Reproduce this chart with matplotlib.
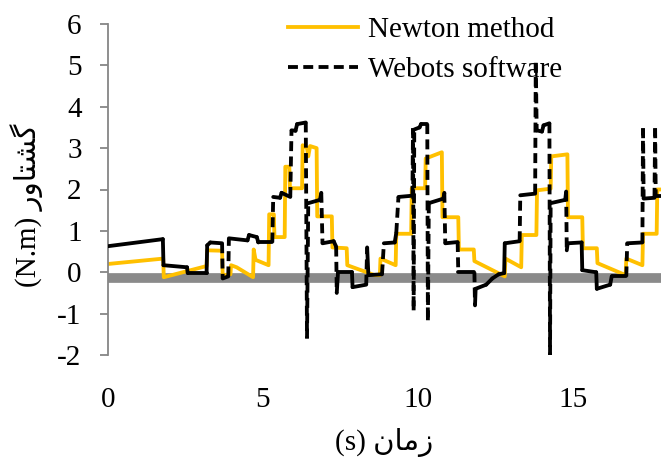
import numpy as np
import matplotlib.pyplot as plt
from matplotlib.collections import LineCollection
from matplotlib.lines import Line2D

# torque vs time, Newton method (step-wise)
newton_t = [0.00, 1.78, 1.80, 3.18, 3.20, 3.68, 3.70, 3.95, 3.97, 4.15, 4.68, 4.70,
            4.76, 5.18, 5.20, 5.35, 5.37, 5.70, 5.72, 5.85, 5.87, 6.26, 6.28, 6.42,
            6.46, 6.52, 6.73, 6.75, 7.22, 7.24, 7.70, 7.72, 8.60, 8.77, 8.79, 9.28,
            9.30, 9.78, 9.80, 10.23, 10.25, 10.77, 10.79, 11.30, 11.32, 11.80, 11.82,
            12.80, 12.82, 13.33, 13.35, 13.82, 13.84, 14.28, 14.30, 14.82, 14.84,
            15.30, 15.32, 15.77, 15.79, 16.70, 16.72, 17.24, 17.26, 17.70, 17.72, 17.84]
newton_v = [0.20, 0.33, -0.12, 0.15, 0.53, 0.52, -0.07, -0.05, 0.17, 0.12, -0.12, 0.55,
            0.30, 0.17, 1.40, 1.40, 0.85, 0.85, 2.55, 2.55, 2.03, 2.03, 3.07, 3.00,
            2.80, 3.05, 3.00, 1.35, 1.35, 0.60, 0.58, 0.17, -0.07, -0.07, 0.33, 0.17,
            0.93, 0.93, 2.03, 2.03, 2.75, 2.90, 1.33, 1.33, 0.55, 0.55, 0.27,
            -0.10, 0.33, 0.12, 0.90, 0.90, 1.98, 2.02, 2.80, 2.85, 1.33,
            1.33, 0.58, 0.58, 0.22, -0.07, 0.33, 0.17, 0.93, 0.93, 2.00, 2.00]

# torque vs time, Webots simulation
webots_t = [0.00, 1.77, 1.79, 2.55, 2.57, 3.18, 3.20, 3.30, 3.68, 3.70, 3.88, 3.90,
            4.50, 4.55, 4.80, 4.85, 5.30, 5.33, 5.55, 5.60, 5.88, 5.92, 6.05, 6.10,
            6.38, 6.42, 6.46, 6.84, 6.88, 6.92, 7.28, 7.36, 7.38, 7.42, 7.87, 7.89,
            8.33, 8.36, 8.40, 8.84, 8.90, 9.25, 9.30, 9.37, 9.82, 9.84, 9.86, 9.88,
            10.05, 10.10, 10.30, 10.32, 10.35, 10.82, 10.85, 10.88, 11.28, 11.30,
            11.82, 11.84, 11.86, 12.20, 12.40, 12.60, 12.78, 12.80, 13.28, 13.30,
            13.78, 13.80, 13.83, 14.00, 14.05, 14.24, 14.26, 14.28, 14.75, 14.78,
            14.80, 14.83, 15.28, 15.30, 15.75, 15.77, 16.20, 16.25, 16.72, 16.75,
            17.24, 17.26, 17.28, 17.63, 17.65, 17.67, 17.84]
webots_v = [0.63, 0.80, 0.17, 0.12, -0.02, -0.02, 0.65, 0.72, 0.70, -0.15, -0.10, 0.82,
            0.77, 0.90, 0.85, 0.72, 0.72, 1.82, 1.80, 1.92, 1.82, 3.43, 3.42, 3.58,
            3.62, -1.60, 1.67, 1.75, 1.92, 0.70, 0.75, 0.62, -0.50, 0.00, 0.00, -0.36,
            -0.30, 0.60, -0.07, -0.05, 0.70, 0.72, 0.95, 1.82, 1.85, 3.48, -0.92, 3.45,
            3.50, 3.58, 3.58, -1.16, 1.67, 1.78, 1.92, 0.70, 0.73, 0.00,
            0.00, -0.80, -0.40, -0.30, -0.15, -0.05, -0.02, 0.70, 0.75, 1.86,
            1.90, 5.06, 3.43, 3.40, 3.55, 3.60, -2.00, 1.67, 1.75, 1.95,
            0.53, 0.70, 0.72, 0.05, 0.00, -0.40, -0.30, -0.10, -0.10, 0.70,
            0.72, 3.48, 1.78, 1.80, 3.48, 1.85, 1.85]

x_ticks = [0, 5, 10, 15]
y_ticks = [-2, -1, 0, 1, 2, 3, 4, 5, 6]
base_level = -0.13

plt.rcParams['font.family'] = ['Liberation Serif', 'DejaVu Sans']
plt.rcParams['axes.unicode_minus'] = False
fs = 21
lw = 2.75

fig = plt.figure(figsize=(6.61, 4.59), dpi=100)
ax = fig.add_axes([108 / 661, 1 - 355 / 459, 1 - 108 / 661, 331 / 459])
ax.set_xlim(0, 17.84)
ax.set_ylim(-2, 6)

ax.axhline(base_level, color='#8a8a8a', lw=7, zorder=1)
ax.plot(newton_t, newton_v, color='#FFC000', lw=lw, zorder=2)

# webots line: long vertical jumps dashed, the rest solid
dash = (0, (2.6, 1.4))
pts = np.column_stack([webots_t, webots_v])
segs = np.stack([pts[:-1], pts[1:]], axis=1)
d = np.diff(ax.transData.transform(pts), axis=0)
tall = (np.abs(d[:, 1]) > np.abs(d[:, 0])) & (np.hypot(d[:, 0], d[:, 1]) > 30)
ax.add_collection(LineCollection(segs[~tall], colors='k', linewidths=lw,
                                 capstyle='round', zorder=3))
ax.add_collection(LineCollection(segs[tall], colors='k', linewidths=lw,
                                 linestyles=[dash], zorder=3))

for s in ['top', 'right', 'bottom']:
    ax.spines[s].set_visible(False)
ax.spines['left'].set_color('#868686')
ax.spines['left'].set_linewidth(1.3)

ax.set_xticks(x_ticks)
ax.set_yticks(y_ticks)
ax.tick_params(axis='y', length=6, width=1.3, color='#868686', pad=13, labelsize=fs)
ax.tick_params(axis='x', length=0, pad=23, labelsize=fs)

ax.set_xlabel('(s) \uFEE5\uFE8E\uFEE3\uFEAF', fontsize=fs)
ax.xaxis.set_label_coords(0.5, -0.22)
ax.set_ylabel('(N.m) \uFEAD\uFEED\uFE8E\uFE98\uFEB8\uFB94', fontsize=fs, va='center')
ax.yaxis.set_label_coords(-0.1465, 0.453)

handles = [Line2D([], [], color='#FFC000', lw=lw),
           Line2D([], [], color='k', lw=lw, ls=dash)]
fig.legend(handles, ['Newton method', 'Webots software'], loc='upper left',
           bbox_to_anchor=(288 / 661, 1 - 17 / 459), frameon=False, fontsize=fs,
           handlelength=2.4, handletextpad=0.33, borderpad=0, borderaxespad=0,
           labelspacing=0.45)

fig.savefig('out.png', dpi=100)
